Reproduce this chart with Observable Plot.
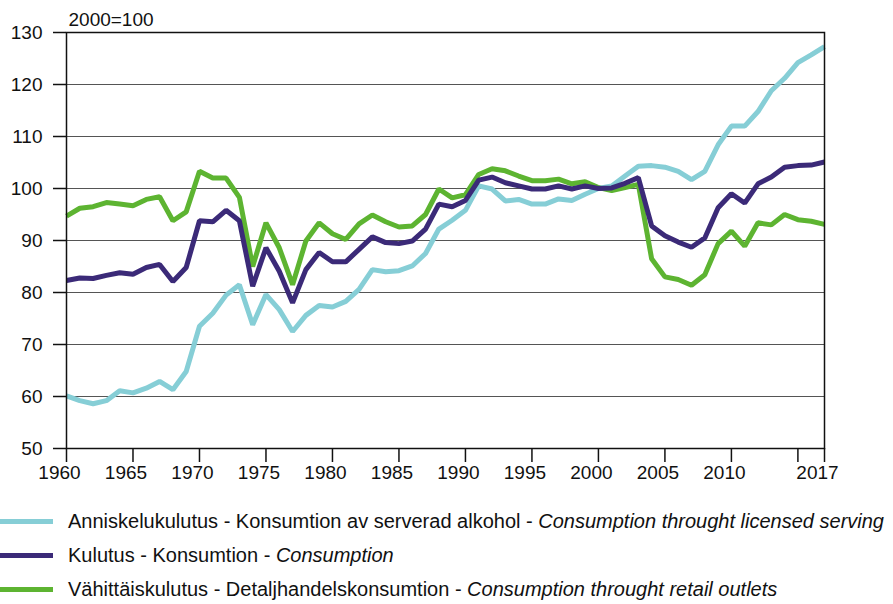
<!DOCTYPE html>
<html>
<head>
<meta charset="utf-8">
<script src="https://cdn.jsdelivr.net/npm/d3@7"></script>
<script src="https://cdn.jsdelivr.net/npm/@observablehq/plot@0.6"></script>
<style>
  html, body { margin: 0; padding: 0; background: #fff; }
  body { width: 893px; height: 604px; overflow: hidden; font-family: "Liberation Sans", Arial, Helvetica, sans-serif; }
  #legend { margin-top: 10px; }
  .row { height: 33.7px; display: flex; align-items: center; font-size: 20px; color: #111; white-space: nowrap; }
  .sw { width: 53px; height: 5px; margin-right: 15px; flex: none; }
  .row i { font-style: italic; }
</style>
</head>
<body>
<div id="chart"></div>
<div id="legend"></div>
<script>
const years = d3.range(1960, 2018);

const licensed = [
  60.1, 59.2, 58.6, 59.2, 61.1, 60.7, 61.6, 62.9, 61.3, 64.8,
  73.5, 76.0, 79.5, 81.5, 73.8, 79.6, 76.7, 72.5, 75.6, 77.5,
  77.2, 78.3, 80.6, 84.4, 84.0, 84.2, 85.1, 87.5, 92.2, 93.9,
  95.8, 100.5, 99.9, 97.6, 97.9, 97.0, 97.0, 98.0, 97.7, 98.9,
  100.0, 100.5, 102.4, 104.3, 104.4, 104.1, 103.3, 101.7, 103.3, 108.4,
  112.0, 112.0, 114.8, 118.8, 121.2, 124.2, 125.7, 127.3
];

const consumption = [
  82.3, 82.8, 82.7, 83.3, 83.8, 83.5, 84.8, 85.4, 82.1, 84.8,
  93.8, 93.6, 95.8, 93.8, 81.2, 88.6, 84.1, 78.0, 84.4, 87.7,
  85.9, 85.9, 88.3, 90.7, 89.6, 89.4, 89.9, 92.2, 97.0, 96.5,
  97.7, 101.6, 102.2, 101.1, 100.5, 99.9, 99.9, 100.5, 99.9, 100.5,
  100.0, 100.1, 101.0, 102.1, 92.8, 90.9, 89.7, 88.7, 90.5, 96.3,
  99.0, 97.2, 100.9, 102.2, 104.1, 104.4, 104.5, 105.1
];

const retail = [
  94.7, 96.2, 96.5, 97.3, 97.0, 96.7, 97.9, 98.4, 93.8, 95.5,
  103.3, 102.0, 102.0, 98.3, 85.0, 93.4, 88.6, 81.5, 89.9, 93.4,
  91.3, 90.2, 93.2, 94.9, 93.6, 92.6, 92.8, 95.0, 99.9, 98.2,
  98.8, 102.7, 103.8, 103.4, 102.4, 101.5, 101.5, 101.8, 100.9, 101.3,
  100.2, 99.6, 100.2, 100.8, 86.5, 83.0, 82.5, 81.4, 83.4, 89.4,
  91.8, 88.9, 93.4, 93.0, 95.0, 94.0, 93.7, 93.1
];

const yTicks = [50, 60, 70, 80, 90, 100, 110, 120, 130];
const xTicks = [1960, 1965, 1970, 1975, 1980, 1985, 1990, 1995, 2000, 2005, 2010, 2015, 2017];
const xLabels = [1960, 1965, 1970, 1975, 1980, 1985, 1990, 1995, 2000, 2005, 2010, 2017];
const indexNote = "2000=100";

const seriesNames = [
  ["Anniskelukulutus - Konsumtion av serverad alkohol - ", "Consumption throught licensed serving"],
  ["Kulutus - Konsumtion - ", "Consumption"],
  ["Vähittäiskulutus - Detaljhandelskonsumtion - ", "Consumption throught retail outlets"]
];
const colors = ["#86CED6", "#3B2A78", "#5DB431"];

const toRows = (vals) => years.map((year, i) => ({year, value: vals[i]}));
const lineOpts = (c) => ({x: "year", y: "value", stroke: c, strokeWidth: 5, strokeLinejoin: "miter", strokeLinecap: "butt"});

const plot = Plot.plot({
  width: 893,
  height: 495,
  marginTop: 32,
  marginBottom: 47,
  marginLeft: 66,
  marginRight: 69,
  style: {fontFamily: "Liberation Sans, Arial, Helvetica, sans-serif", fontSize: "19px", color: "#111"},
  x: {domain: [1960, 2017]},
  y: {domain: [50, 130]},
  marks: [
    Plot.ruleY(yTicks.slice(1, -1), {stroke: "#555", strokeWidth: 1}),
    Plot.line(toRows(retail), lineOpts(colors[2])),
    Plot.line(toRows(licensed), lineOpts(colors[0])),
    Plot.line(toRows(consumption), lineOpts(colors[1])),
    Plot.frame({stroke: "#111", strokeWidth: 1.5}),
    Plot.axisY({ticks: yTicks, tickSize: 13, tickPadding: 11, label: null, fontSize: 19, stroke: "#111", strokeWidth: 1.5}),
    Plot.axisX({ticks: xTicks, tickSize: 14, tickFormat: () => "", label: null, stroke: "#111", strokeWidth: 1.5}),
    Plot.axisX({ticks: xLabels, tickSize: 0, tickPadding: 17, dx: -7, tickFormat: d => String(d), label: null, fontSize: 19}),
    Plot.text([indexNote], {frameAnchor: "top-left", text: d => d, dx: 2, dy: -7, textAnchor: "start", lineAnchor: "bottom", fontSize: 19, fill: "#111"})
  ]
});
document.getElementById("chart").appendChild(plot);

const legend = document.getElementById("legend");
seriesNames.forEach(([plain, ital], i) => {
  const row = document.createElement("div");
  row.className = "row";
  const sw = document.createElement("span");
  sw.className = "sw";
  sw.style.background = colors[i];
  row.appendChild(sw);
  const t = document.createElement("span");
  t.appendChild(document.createTextNode(plain));
  const it = document.createElement("i");
  it.textContent = ital;
  t.appendChild(it);
  row.appendChild(t);
  legend.appendChild(row);
});
</script>
</body>
</html>
